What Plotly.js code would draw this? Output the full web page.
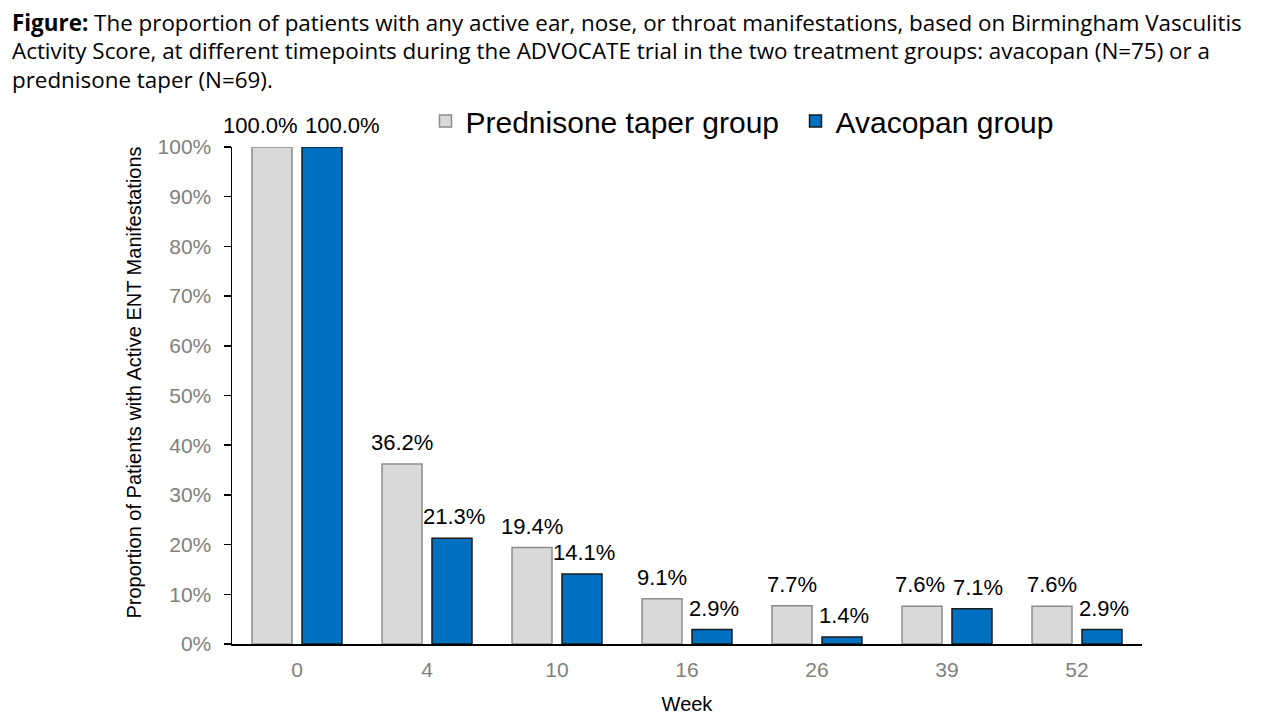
<!DOCTYPE html>
<html><head><meta charset="utf-8">
<script src="https://cdn.plot.ly/plotly-3.0.1.min.js"></script>
<style>body{margin:0;background:#fff}#c{width:1280px;height:720px}</style>
</head><body><div id="c"></div>
<script>
const weeks = ['0','4','10','16','26','39','52'];
const prednisone = [1.000, 0.362, 0.194, 0.091, 0.077, 0.076, 0.076];
const avacopan = [1.000, 0.213, 0.141, 0.029, 0.014, 0.071, 0.029];
const seriesNames = ['Prednisone taper group', 'Avacopan group'];
const yTicks = [0,0.1,0.2,0.3,0.4,0.5,0.6,0.7,0.8,0.9,1.0];
const yTitle = 'Proportion of Patients with Active ENT Manifestations';

const captionLines = [
  '<b>Figure:</b> The proportion of patients with any active ear, nose, or throat manifestations, based on Birmingham Vasculitis',
  'Activity Score, at different timepoints during the ADVOCATE trial in the two treatment groups: avacopan (N=75) or a',
  'prednisone taper (N=69).'
];

const L = 232, PW = 910, PT = 147, PH = 497;

const traces = [
  {type:'bar', name:seriesNames[0], x:weeks, y:prednisone,
   marker:{color:'#d9d9d9', line:{color:'#8c8c8c', width:1.5}}, hoverinfo:'skip'},
  {type:'bar', name:seriesNames[1], x:weeks, y:avacopan,
   marker:{color:'#0070c0', line:{color:'#1a1a1a', width:1.5}}, hoverinfo:'skip'}
];

const ann = [];
captionLines.forEach((t,i)=>{
  ann.push({xref:'paper', yref:'paper', x:(10-L)/PW, xanchor:'left', y:(PT+PH-22-i*28.5)/PH, yanchor:'middle',
    text:t, showarrow:false, font:{family:'Open Sans, sans-serif', size:22.4, color:'#000'}, align:'left'});
});
ann.push({xref:'paper', yref:'paper', x:(133-L)/PW, xanchor:'center', y:(PT+PH-382.5)/PH, yanchor:'middle',
  textangle:-90, text:yTitle, showarrow:false, font:{family:'Liberation Sans, Arial, sans-serif', size:20, color:'#000'}});
weeks.forEach((w,i)=>{
  // when labels sit at similar heights, push them apart so they don't collide
  const diff = Math.abs(prednisone[i] - avacopan[i]);
  let dl = -25, dr = 27;
  if (prednisone[i] >= 0.995 && avacopan[i] >= 0.995) { dl = -37; dr = 45; }
  else if (diff < 0.02) { dl = -27; dr = 31; }
  [[prednisone, dl],[avacopan, dr]].forEach(([arr,dx])=>{
    ann.push({x:i, y:arr[i], xref:'x', yref:'y', xshift:dx, yshift:7, yanchor:'bottom', showarrow:false,
      text:(arr[i]*100).toFixed(1)+'%', font:{family:'Liberation Sans, Arial, sans-serif', size:22, color:'#000'}});
  });
});

const layout = {
  width:1280, height:720,
  margin:{l:L, r:1280-L-PW, t:PT, b:720-PT-PH},
  paper_bgcolor:'#fff', plot_bgcolor:'#fff',
  barmode:'group', bargap:0.231, bargroupgap:0.2,
  showlegend:true,
  legend:{orientation:'h', x:(425.5-L)/PW, xanchor:'left', y:(PT+PH-121)/PH, yanchor:'middle', entrywidth:325,
    font:{family:'Liberation Sans, Arial, sans-serif', size:30, color:'#000'}, traceorder:'normal'},
  xaxis:{type:'category', range:[-0.5,6.5], showline:true, linecolor:'#000', linewidth:1.5, ticks:'', showgrid:false,
    ticklabelstandoff:6,
    tickfont:{family:'Liberation Sans, Arial, sans-serif', size:21, color:'#808080'},
    title:{text:'Week', font:{family:'Liberation Sans, Arial, sans-serif', size:20, color:'#000'}, standoff:17}},
  yaxis:{range:[0,1], tickvals:yTicks, tickformat:'.0%', showline:true, linecolor:'#000', linewidth:1.5,
    ticks:'outside', ticklen:7, tickcolor:'#000', tickwidth:1.5, showgrid:false, zeroline:false, ticklabelstandoff:8,
    tickfont:{family:'Liberation Sans, Arial, sans-serif', size:21, color:'#808080'}},
  annotations:ann
};
Plotly.newPlot('c', traces, layout, {displayModeBar:false, staticPlot:true});
</script></body></html>
